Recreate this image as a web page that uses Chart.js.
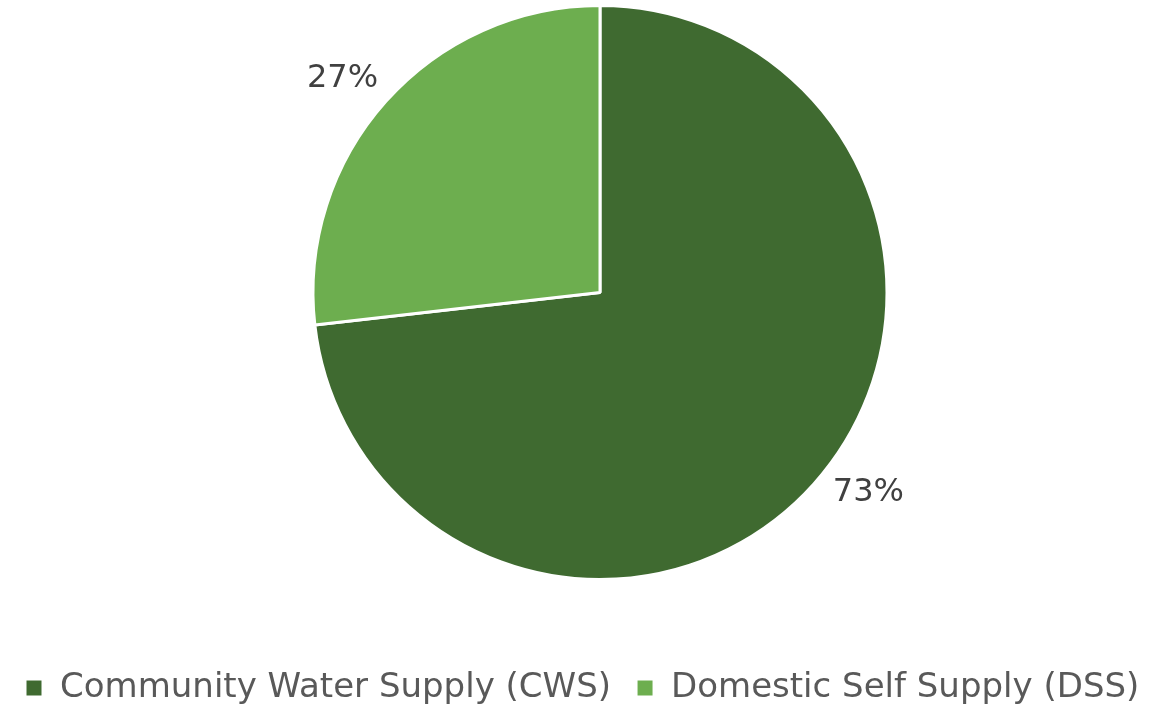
<!DOCTYPE html>
<html>
<head>
<meta charset="utf-8">
<script src="https://cdn.jsdelivr.net/npm/chart.js@4/dist/chart.umd.min.js"></script>
<style>
  html, body { margin: 0; padding: 0; background: #ffffff; overflow: hidden; }
  #wrap { width: 1166px; height: 709px; overflow: hidden; position: relative; }
  #c { position: absolute; left: 0; top: 0; }
</style>
</head>
<body>
<div id="wrap"><canvas id="c" width="1200" height="709"></canvas></div>
<script>
const categories = ['Community Water Supply (CWS)', 'Domestic Self Supply (DSS)'];
const shares = [73.2, 26.8];
const sliceColors = ['#3F6A30', '#6DAE4F'];

const FONT = "'DejaVu Sans', 'Open Sans', sans-serif";

// label placement style: distance beyond pie edge and small angular nudge (degrees)
const labelStyle = { gap: 48, nudgeDeg: [-5, -2] };

const percentLabels = {
  id: 'percentLabels',
  afterDatasetsDraw(chart) {
    const ctx = chart.ctx;
    const meta = chart.getDatasetMeta(0);
    const values = chart.data.datasets[0].data;
    const total = values.reduce((a, b) => a + b, 0);
    ctx.save();
    ctx.font = "32px " + FONT;
    ctx.fillStyle = '#404040';
    ctx.textAlign = 'center';
    ctx.textBaseline = 'middle';
    meta.data.forEach((arc, i) => {
      const p = arc.getProps(['x', 'y', 'startAngle', 'endAngle', 'outerRadius'], true);
      const mid = (p.startAngle + p.endAngle) / 2 + labelStyle.nudgeDeg[i] * Math.PI / 180;
      const r = p.outerRadius + labelStyle.gap;
      const txt = Math.round(values[i] / total * 100) + '%';
      ctx.fillText(txt, p.x + Math.cos(mid) * r, p.y + Math.sin(mid) * r);
    });
    ctx.restore();
  }
};

new Chart(document.getElementById('c'), {
  type: 'pie',
  data: {
    labels: categories,
    datasets: [{
      data: shares,
      backgroundColor: sliceColors,
      borderColor: '#ffffff',
      borderWidth: 3,
      hoverOffset: 0
    }]
  },
  options: {
    responsive: false,
    animation: false,
    radius: 287,
    layout: { padding: { top: 0, left: 0, right: 0, bottom: -6 } },
    plugins: {
      tooltip: { enabled: false },
      legend: {
        position: 'bottom',
        align: 'start',
        title: { display: true, text: '', font: { size: 1, lineHeight: '61px' }, padding: 0 },
        labels: {
          boxWidth: 18,
          boxHeight: 18,
          padding: 25,
          color: '#595959',
          font: { family: FONT, size: 34 }
        }
      }
    }
  },
  plugins: [percentLabels]
});
</script>
</body>
</html>
